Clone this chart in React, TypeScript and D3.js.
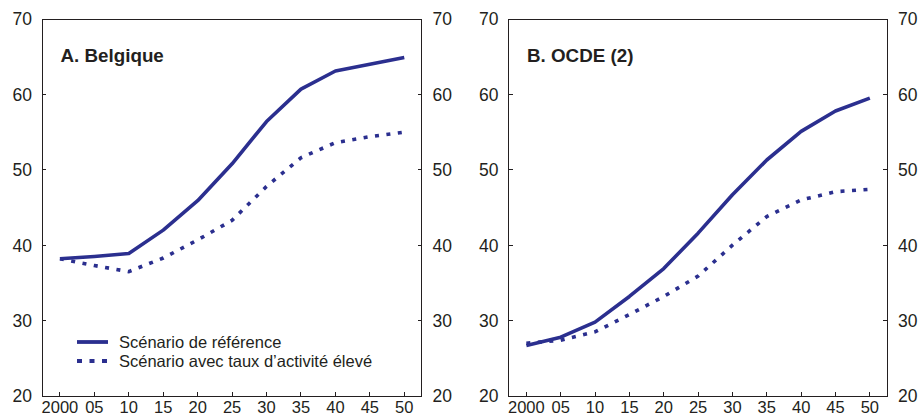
import React from "react";
import * as d3 from "d3";

// Years shared by both panels
const years = [2000, 2005, 2010, 2015, 2020, 2025, 2030, 2035, 2040, 2045, 2050];

// A. Belgique
const belgiqueReference = [38.2, 38.5, 38.9, 42.0, 45.9, 50.8, 56.4, 60.7, 63.1, 64.0, 64.9];
const belgiqueHighActivity = [38.2, 37.3, 36.5, 38.3, 40.7, 43.3, 47.8, 51.6, 53.6, 54.4, 55.0];

// B. OCDE (2)
const ocdeReference = [26.7, 27.8, 29.8, 33.2, 36.9, 41.6, 46.7, 51.3, 55.1, 57.8, 59.5];
const ocdeHighActivity = [27.0, 27.4, 28.5, 30.8, 33.2, 35.9, 40.0, 43.8, 46.0, 47.1, 47.4];

const yTicks = [20, 30, 40, 50, 60, 70];
const xTicks = [2000, 2005, 2010, 2015, 2020, 2025, 2030, 2035, 2040, 2045, 2050];
const xTickLabels = ["2000", "05", "10", "15", "20", "25", "30", "35", "40", "45", "50"];

const legendLabels = ["Scénario de référence", "Scénario avec taux d\u2019activité élevé"];

const NAVY = "#2b2f8f";
const INK = "#231f20";
const FONT = "'Liberation Sans', Arial, Helvetica, sans-serif";
const DOTS = "4 7.5";

type PanelProps = {
  title: string;
  left: number;
  right: number;
  reference: number[];
  high: number[];
  legend?: boolean;
};

const TOP = 19;
const BOTTOM = 396;

function Panel({ title, left, right, reference, high, legend }: PanelProps) {
  const x = d3.scaleLinear().domain([1997.4, 2052.5]).range([left, right]);
  const y = d3.scaleLinear().domain([20, 70]).range([BOTTOM, TOP]);

  const line = d3
    .line<number>()
    .x((_, i) => x(years[i]))
    .y((v) => y(v));

  return (
    <g>
      {/* frame */}
      <rect
        x={left}
        y={TOP}
        width={right - left}
        height={BOTTOM - TOP}
        fill="none"
        stroke={INK}
        strokeWidth={1}
        shapeRendering="crispEdges"
      />

      {/* y ticks and labels on both sides */}
      {yTicks.map((t) => (
        <g key={t}>
          <line x1={left} x2={left + 4} y1={y(t)} y2={y(t)} stroke={INK} shapeRendering="crispEdges" />
          <line x1={right - 4} x2={right} y1={y(t)} y2={y(t)} stroke={INK} shapeRendering="crispEdges" />
          <text
            x={left - 10}
            y={y(t)}
            dy="0.36em"
            textAnchor="end"
            fontFamily={FONT}
            fontSize={17.5}
            fill={INK}
          >
            {t}
          </text>
          <text
            x={right + 11}
            y={y(t)}
            dy="0.36em"
            textAnchor="start"
            fontFamily={FONT}
            fontSize={17.5}
            fill={INK}
          >
            {t}
          </text>
        </g>
      ))}

      {/* x ticks and labels */}
      {xTicks.map((t, i) => (
        <g key={t}>
          <line x1={x(t)} x2={x(t)} y1={BOTTOM} y2={BOTTOM - 4} stroke={INK} shapeRendering="crispEdges" />
          <text
            x={x(t)}
            y={413.2}
            textAnchor="middle"
            fontFamily={FONT}
            fontSize={16.5}
            fill={INK}
          >
            {xTickLabels[i]}
          </text>
        </g>
      ))}

      {/* series */}
      <path d={line(high) ?? ""} fill="none" stroke={NAVY} strokeWidth={3.6} strokeDasharray={DOTS} />
      <path d={line(reference) ?? ""} fill="none" stroke={NAVY} strokeWidth={3.6} strokeLinejoin="round" />

      {/* panel title */}
      <text x={left + 18.5} y={61.7} fontFamily={FONT} fontWeight="bold" fontSize={18.8} fill={INK}>
        {title}
      </text>

      {legend && (
        <g>
          <line x1={left + 35} x2={left + 66} y1={342} y2={342} stroke={NAVY} strokeWidth={3.8} />
          <line
            x1={left + 35}
            x2={left + 66}
            y1={361}
            y2={361}
            stroke={NAVY}
            strokeWidth={3.8}
            strokeDasharray="5 7.5"
          />
          <text x={left + 77} y={347.5} fontFamily={FONT} fontSize={16.5} fill={INK}>
            {legendLabels[0]}
          </text>
          <text x={left + 77} y={366.5} fontFamily={FONT} fontSize={16.5} fill={INK}>
            {legendLabels[1]}
          </text>
        </g>
      )}
    </g>
  );
}

export default function App() {
  return (
    <svg
      width={922}
      height={417}
      style={{ position: "absolute", left: 0, top: 0, background: "#fff" }}
    >
      <rect width={922} height={417} fill="#fff" />
      <Panel
        title="A. Belgique"
        left={42}
        right={421.5}
        reference={belgiqueReference}
        high={belgiqueHighActivity}
        legend
      />
      <Panel
        title="B. OCDE (2)"
        left={508.5}
        right={887}
        reference={ocdeReference}
        high={ocdeHighActivity}
      />
    </svg>
  );
}
